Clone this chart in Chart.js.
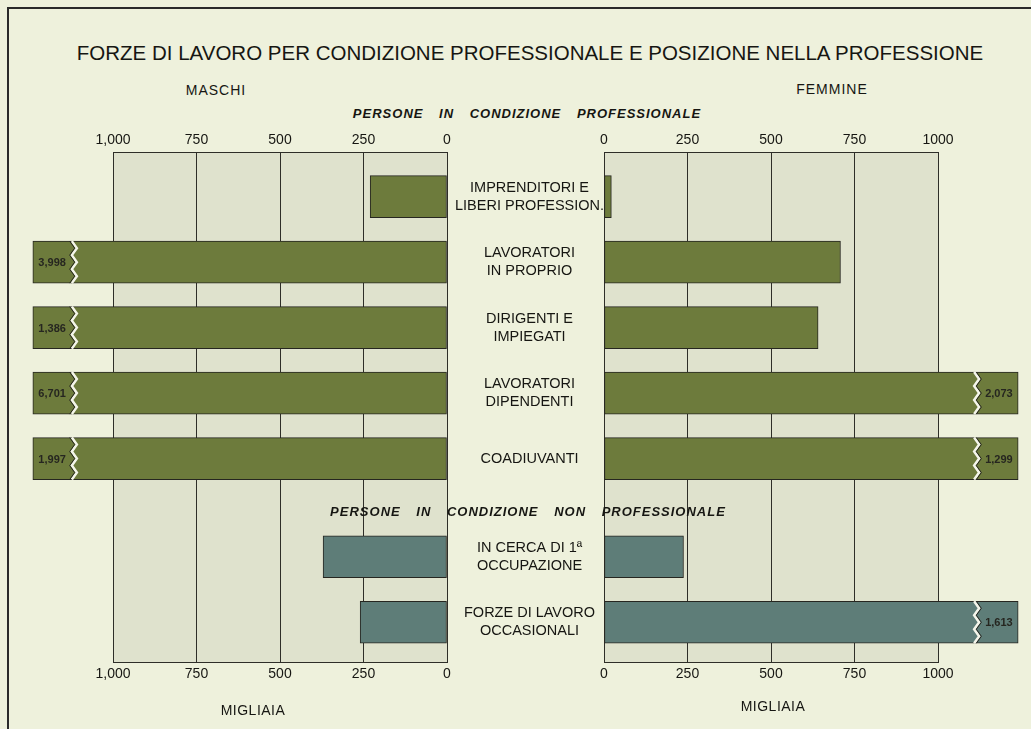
<!DOCTYPE html>
<html lang="it">
<head>
    <meta charset="UTF-8">
    <title>Forze di lavoro per condizione professionale</title>
    <script src="https://cdn.jsdelivr.net/npm/chart.js"></script>
    <style>
        body {
            margin: 0;
            width: 1031px;
            height: 729px;
            background: #eef1dc;
            font-family: "Liberation Sans", Arial, sans-serif;
            color: #161612;
            position: relative;
            overflow: hidden;
        }
        .frame {
            position: absolute;
            left: 7px;
            top: 7px;
            width: 1040px;
            height: 740px;
            border-left: 2px solid #2a2a2a;
            border-top: 2px solid #2a2a2a;
        }
        .lbl {
            position: absolute;
            transform: translate(-50%, -50%);
            white-space: nowrap;
        }
        .title { font-size: 20.5px; }
        .sex { font-size: 14px; letter-spacing: 1px; }
        .section { font-size: 13px; font-style: italic; font-weight: 600; letter-spacing: 1px; word-spacing: 11px; }
        .unit { font-size: 14px; letter-spacing: 0.5px; }
        .box { position: absolute; top: 120px; height: 600px; }
    </style>
</head>
<body>
    <div class="frame"></div>
    <div class="lbl title" style="left:530px; top:53px;">FORZE DI LAVORO PER CONDIZIONE PROFESSIONALE E POSIZIONE NELLA PROFESSIONE</div>
    <div class="lbl sex" style="left:216px; top:90px;">MASCHI</div>
    <div class="lbl sex" style="left:832px; top:89px;">FEMMINE</div>
    <div class="lbl section" style="left:527px; top:113px;">PERSONE IN CONDIZIONE PROFESSIONALE</div>

    <div class="box" style="left:0; width:604px;"><canvas id="maschiChart"></canvas></div>
    <div class="box" style="left:594px; width:437px;"><canvas id="femmineChart"></canvas></div>

    <div class="lbl section" style="left:528px; top:511px;">PERSONE IN CONDIZIONE NON PROFESSIONALE</div>
    <div class="lbl unit" style="left:253px; top:710px;">MIGLIAIA</div>
    <div class="lbl unit" style="left:773px; top:706px;">MIGLIAIA</div>

    <script>
        // dati (migliaia)
        const categories = [
            ['IMPRENDITORI E', 'LIBERI PROFESSION.'],
            ['LAVORATORI', 'IN PROPRIO'],
            ['DIRIGENTI E', 'IMPIEGATI'],
            ['LAVORATORI', 'DIPENDENTI'],
            ['COADIUVANTI'],
            ['IN CERCA DI 1ª', 'OCCUPAZIONE'],
            ['FORZE DI LAVORO', 'OCCASIONALI']
        ];
        const groups = ['prof', 'prof', 'prof', 'prof', 'prof', 'nonprof', 'nonprof'];
        const maschi = [230, 3998, 1386, 6701, 1997, 371, 260];
        const femmine = [22, 708, 641, 2073, 1299, 238, 1613];
        const tickValues = [0, 250, 500, 750, 1000];

        const CAP = 1000;      // fine della scala, oltre si spezza la barra
        const STUB = 240;      // tratto disegnato oltre la scala
        const GROUP_GAP = 0.5; // spazio per il titolo della seconda sezione

        const colors = { prof: '#6d7b3c', nonprof: '#5e7d78' };
        const ink = '#262620';

        function rowPos(i) {
            return i + (groups[i] === 'nonprof' ? GROUP_GAP : 0);
        }

        function shown(v) {
            return v > CAP ? CAP + STUB : v;
        }

        const fmt = v => v.toLocaleString('en-US');

        const panelBg = {
            id: 'panelBg',
            beforeDraw(chart) {
                const a = chart.chartArea;
                const ctx = chart.ctx;
                ctx.save();
                ctx.fillStyle = '#dfe2cd';
                ctx.fillRect(a.left, a.top, a.right - a.left, a.bottom - a.top);
                ctx.restore();
            }
        };

        // spezzatura a zig-zag e valore reale sulle barre fuori scala
        const breaks = {
            id: 'breaks',
            afterDatasetsDraw(chart) {
                const values = chart.data.datasets[0].raw;
                const meta = chart.getDatasetMeta(0);
                const ctx = chart.ctx;
                ctx.save();
                ctx.font = 'bold 11px "Liberation Sans", Arial, sans-serif';
                meta.data.forEach((bar, i) => {
                    if (values[i] <= CAP) return;
                    const p = bar.getProps(['x', 'y', 'base', 'height'], true);
                    const dir = Math.sign(p.x - p.base);
                    const txt = fmt(values[i]);
                    const w = ctx.measureText(txt).width;
                    const bx = p.x - dir * (w + 14);
                    const top = p.y - p.height / 2;
                    const bot = p.y + p.height / 2;
                    const zig = (off, color, lw) => {
                        ctx.beginPath();
                        const n = 6;
                        for (let k = 0; k <= n; k++) {
                            const yy = top + (bot - top) * k / n;
                            const xx = bx + off + (k % 2 ? 2.5 : -2.5);
                            if (k === 0) ctx.moveTo(xx, yy); else ctx.lineTo(xx, yy);
                        }
                        ctx.strokeStyle = color;
                        ctx.lineWidth = lw;
                        ctx.stroke();
                    };
                    zig(0, '#f4f5ea', 2.5);
                    zig(dir * 2.2, ink, 1);
                    ctx.fillStyle = ink;
                    ctx.textAlign = 'center';
                    ctx.textBaseline = 'middle';
                    ctx.fillText(txt, (bx + dir * 3 + p.x) / 2, p.y + 1);
                });
                ctx.restore();
            }
        };

        function xAxis(position, reverse) {
            return {
                type: 'linear',
                position: position,
                reverse: reverse,
                min: 0,
                max: CAP,
                afterBuildTicks: s => { s.ticks = tickValues.map(v => ({ value: v })); },
                ticks: {
                    autoSkip: false,
                    maxRotation: 0,
                    padding: 4,
                    color: '#161612',
                    font: { family: '"Liberation Sans", Arial, sans-serif', size: 14 },
                    callback: v => (reverse && v === 1000 ? '1,000' : String(v))
                },
                grid: { color: '#2e2e28', lineWidth: 1, drawTicks: false },
                border: { display: true, color: '#2e2e28', width: 1 }
            };
        }

        function createChart(id, values, left) {
            const ctx = document.getElementById(id).getContext('2d');
            const yScale = {
                type: 'linear',
                display: left,
                position: 'right',
                reverse: true,
                offset: false,
                min: -0.67,
                max: 7.11,
                afterBuildTicks: s => { s.ticks = categories.map((c, i) => ({ value: rowPos(i) })); },
                grid: { display: false, offset: false },
                border: { display: false },
                ticks: {
                    autoSkip: false,
                    crossAlign: 'center',
                    padding: 0,
                    color: '#161612',
                    font: { family: '"Liberation Sans", Arial, sans-serif', size: 14.5, lineHeight: 1.25 },
                    callback: (v, i) => categories[i]
                }
            };
            if (left) yScale.afterFit = s => { s.width = 157; };

            return new Chart(ctx, {
                type: 'bar',
                data: {
                    datasets: [{
                        raw: values,
                        data: values.map((v, i) => ({ x: shown(v), y: rowPos(i) })),
                        backgroundColor: groups.map(g => colors[g]),
                        borderColor: ink,
                        borderWidth: 1,
                        borderSkipped: false,
                        barThickness: 42,
                        clip: false,
                        xAxisID: 'x',
                        yAxisID: 'y'
                    }]
                },
                options: {
                    indexAxis: 'y',
                    responsive: true,
                    maintainAspectRatio: false,
                    animation: false,
                    layout: {
                        padding: left
                            ? { left: 113, right: 0, top: 8, bottom: 33 }
                            : { left: 10, right: 93, top: 8, bottom: 33 }
                    },
                    plugins: {
                        legend: { display: false },
                        tooltip: { enabled: false }
                    },
                    scales: {
                        x: xAxis('top', left),
                        x2: xAxis('bottom', left),
                        y: yScale
                    }
                },
                plugins: [panelBg, breaks]
            });
        }

        createChart('maschiChart', maschi, true);
        createChart('femmineChart', femmine, false);
    </script>
</body>
</html>
